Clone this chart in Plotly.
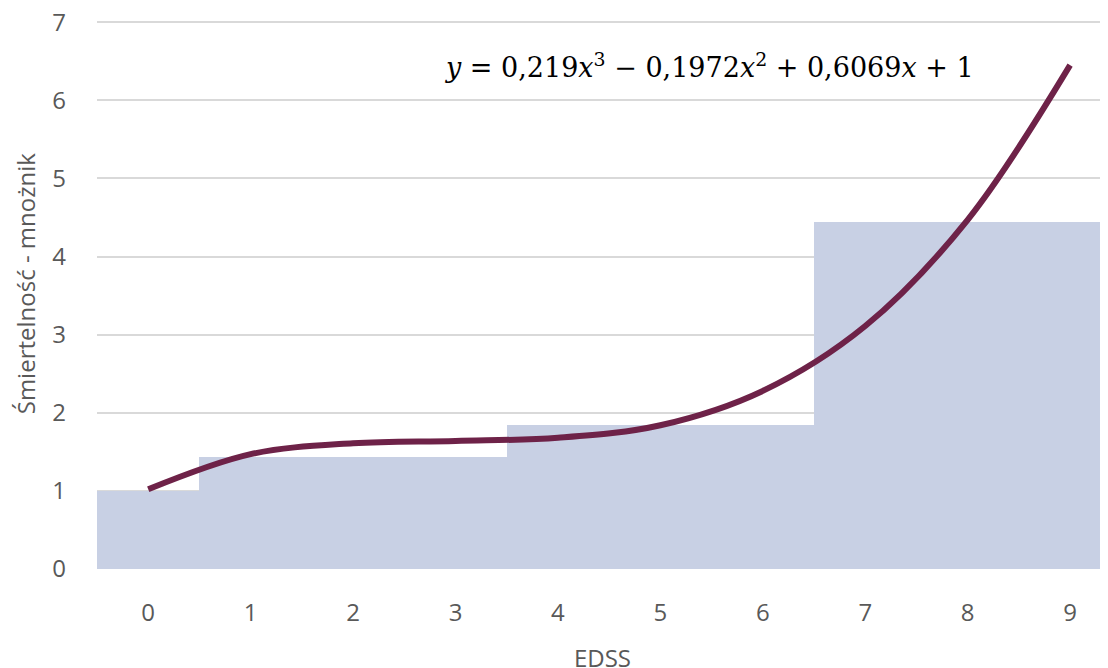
import plotly.graph_objects as go

edss = [0, 1, 2, 3, 4, 5, 6, 7, 8, 9]
bar_values = [1.0, 1.44, 1.44, 1.44, 1.84, 1.84, 1.84, 4.44, 4.44, 4.44]
curve_values = [1.02, 1.47, 1.61, 1.64, 1.68, 1.84, 2.28, 3.11, 4.47, 6.45]
y_ticks = [0, 1, 2, 3, 4, 5, 6, 7]
equation = "<i>y</i> = 0,219<i>x</i><sup>3</sup> − 0,1972<i>x</i><sup>2</sup> + 0,6069<i>x</i> + 1"
y_title = "Śmiertelność - mnożnik"
x_title = "EDSS"

tick_color = "#595959"
font_family = "Open Sans"

fig = go.Figure()
fig.add_trace(go.Bar(
    x=edss, y=bar_values,
    marker=dict(color="#C8D0E4", line=dict(width=0)),
    showlegend=False,
))
fig.add_trace(go.Scatter(
    x=edss, y=curve_values,
    mode="lines",
    line=dict(color="#6E2248", width=6, shape="spline", smoothing=1.0),
    showlegend=False,
))

fig.add_annotation(
    x=5.48, y=6.45, xref="x", yref="y",
    text=equation, showarrow=False,
    font=dict(family="DejaVu Serif", size=27, color="#000000"),
)

# y-axis title as a rotated annotation (placed slightly above plot centre as in reference)
fig.add_annotation(
    x=-0.071, y=0.52, xref="paper", yref="paper",
    text=y_title, textangle=-90, showarrow=False,
    xanchor="center", yanchor="middle",
    font=dict(family=font_family, size=24, color=tick_color),
)

# page body has an 8px margin; compensate so the plot area lands at 97..1108 x 22..568
fig.update_layout(
    width=1108, height=668,
    margin=dict(l=89, r=8, t=13, b=107),
    plot_bgcolor="white", paper_bgcolor="white",
    bargap=0,
    font=dict(family=font_family, color=tick_color),
)
fig.update_xaxes(
    range=[-0.5, 9.37], automargin=False,
    tickmode="array", tickvals=edss, ticktext=[str(v) for v in edss],
    tickfont=dict(size=24, color=tick_color, family=font_family),
    showgrid=False, zeroline=False, showline=False,
    ticks="", ticklabelstandoff=27,
    title=dict(text=x_title, font=dict(size=24, color=tick_color, family=font_family), standoff=23),
)
fig.update_yaxes(
    range=[0, 7.015], automargin=False,
    tickmode="array", tickvals=y_ticks, ticktext=[str(v) for v in y_ticks],
    tickfont=dict(size=24, color=tick_color, family=font_family),
    ticklabeloverflow="allow",
    showgrid=True, gridcolor="#D9D9D9", gridwidth=1.5,
    zeroline=False, showline=False, ticks="", ticklabelstandoff=30,
)

fig.write_html("out.html")
